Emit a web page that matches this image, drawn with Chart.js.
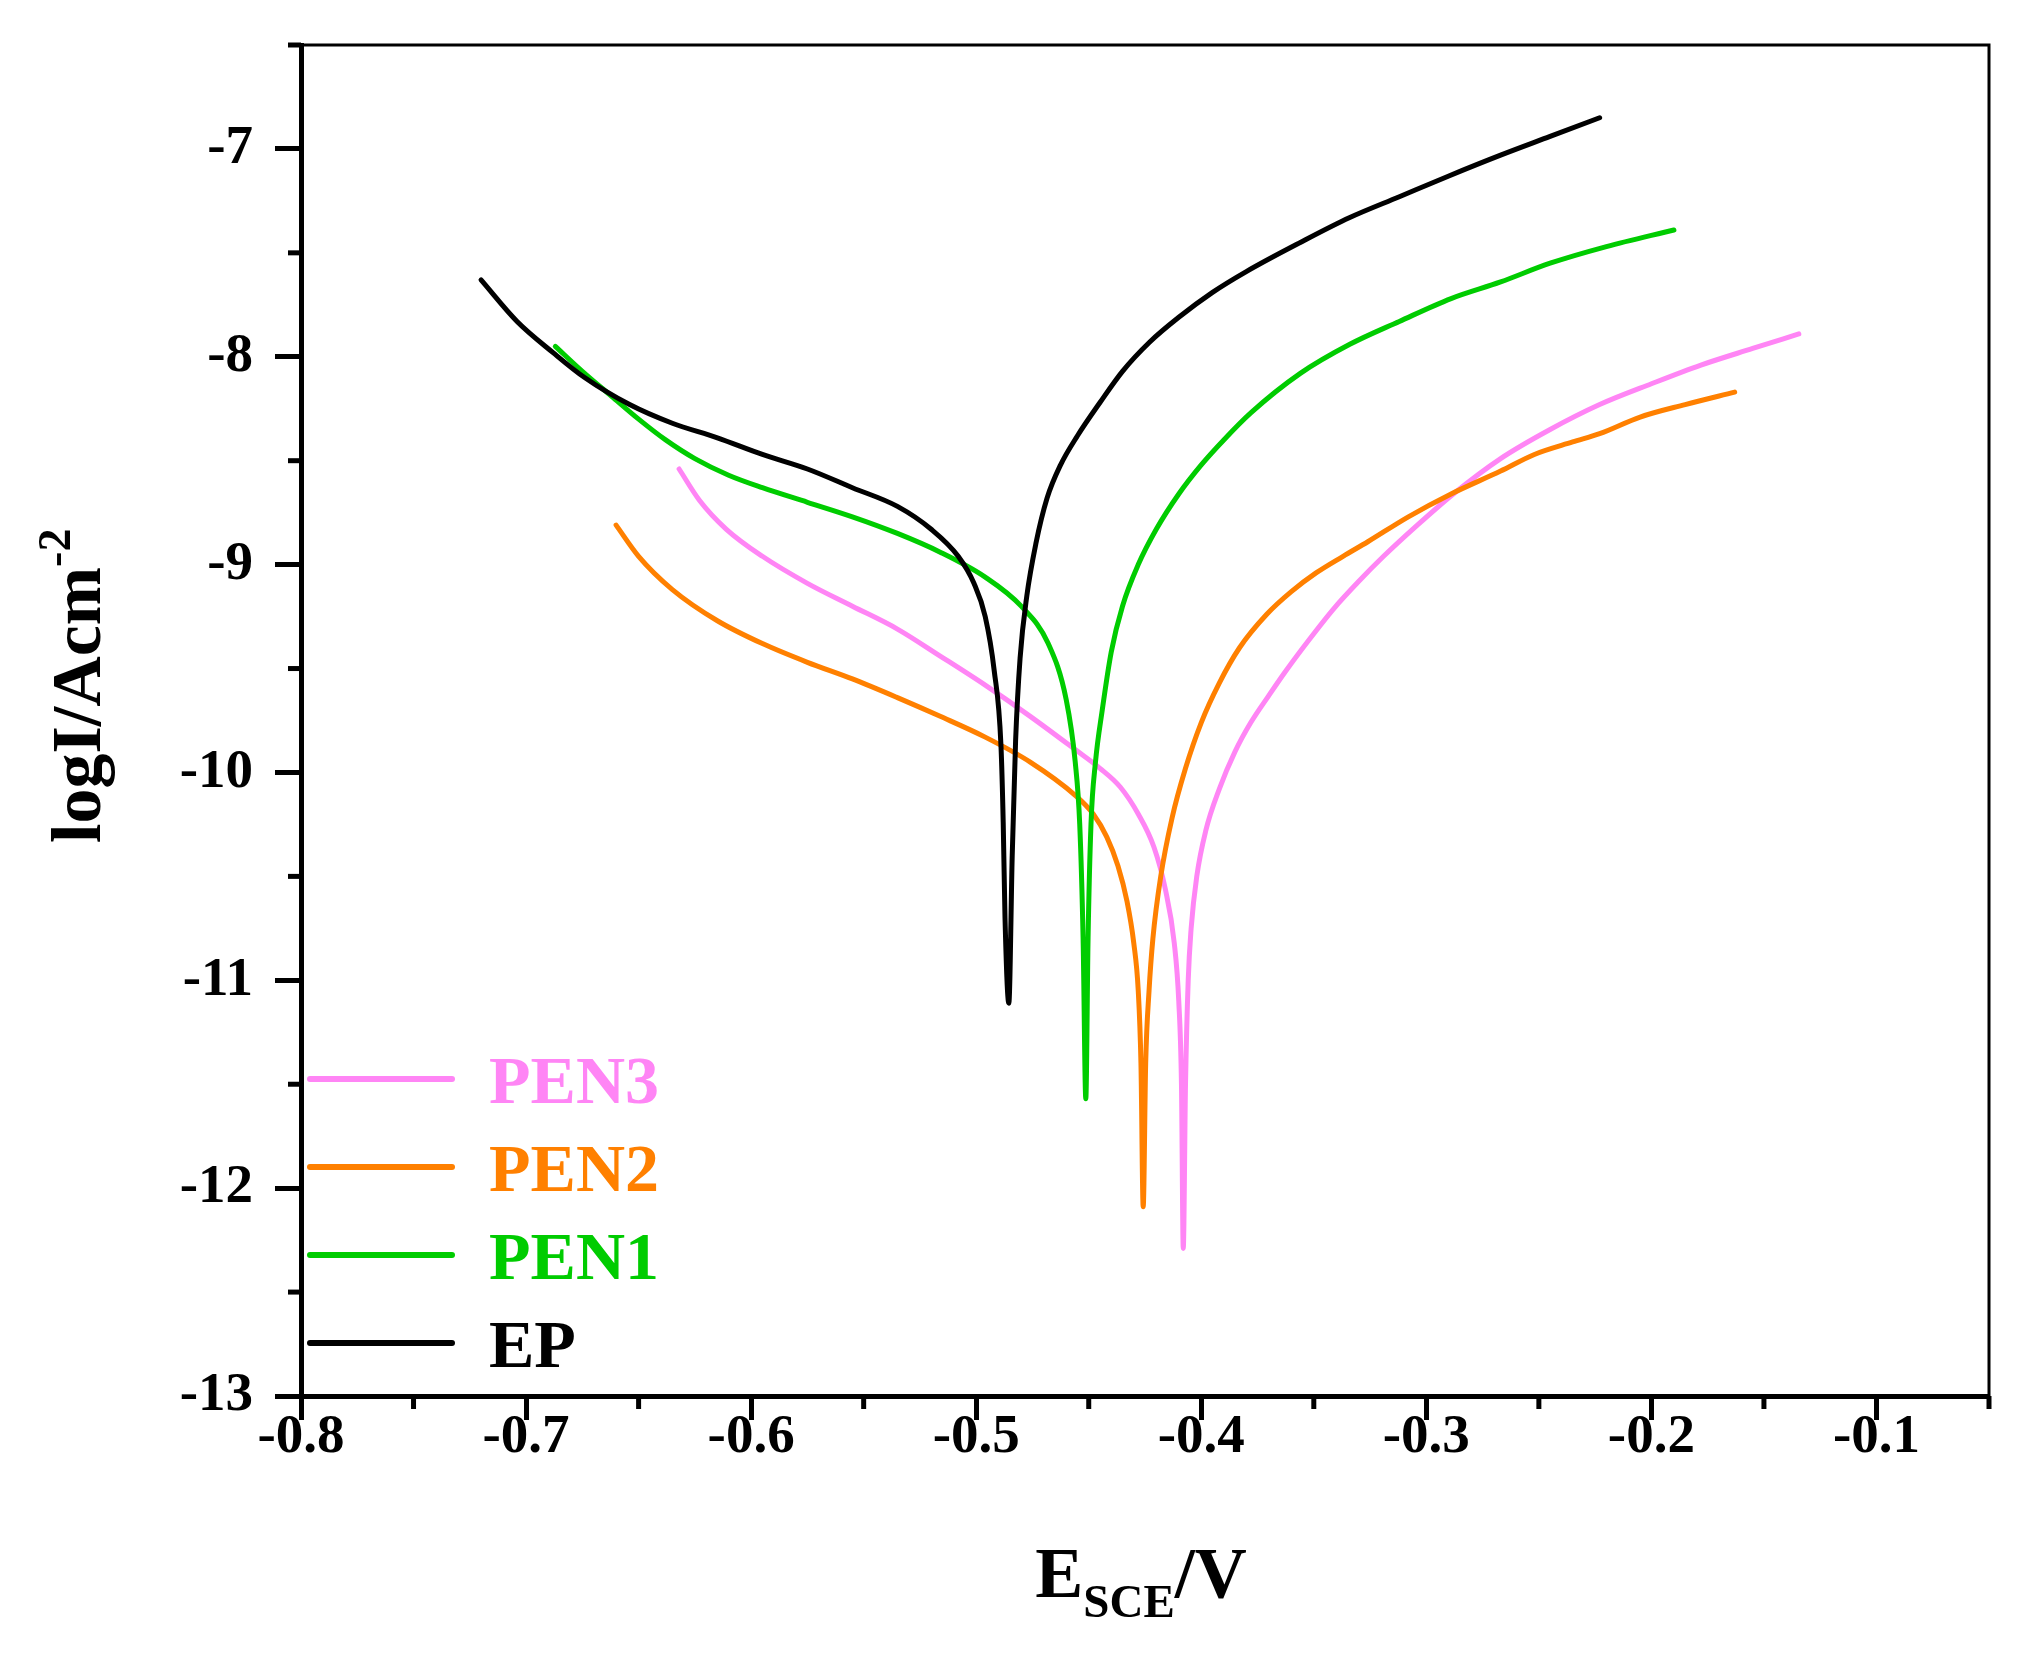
<!DOCTYPE html>
<html>
<head>
<meta charset="utf-8">
<script src="https://cdn.jsdelivr.net/npm/chart.js@4.4.1/dist/chart.umd.min.js"></script>
<style>
  html, body { margin: 0; padding: 0; background: #ffffff; overflow: hidden; }
  #wrap { width: 2021px; height: 1653px; }
  canvas { display: block; }
</style>
</head>
<body>
<div id="wrap"><canvas id="c" width="2021" height="1653"></canvas></div>
<script>
// ---------- data ----------
const X_TICKS = [-0.8, -0.7, -0.6, -0.5, -0.4, -0.3, -0.2, -0.1];
const Y_TICKS = [-13, -12, -11, -10, -9, -8, -7];
const X_MINOR = [-0.75, -0.65, -0.55, -0.45, -0.35, -0.25, -0.15, -0.05];
const Y_MINOR = [-12.5, -11.5, -10.5, -9.5, -8.5, -7.5, -6.5];

const SERIES_LABELS = ['EP', 'PEN1', 'PEN2', 'PEN3'];
const SERIES_COLORS = ['#000000', '#00cc00', '#ff8000', '#ff85f5'];

const E_EP = [-0.720,-0.704,-0.688,-0.674,-0.654,-0.635,-0.615,-0.595,-0.575,-0.555,-0.535,-0.520,-0.508,-0.501,-0.496,-0.492,-0.489,-0.488,-0.4872,-0.4855,
  -0.4840,-0.4825,-0.4805,-0.4775,-0.4735,-0.4685,-0.4625,-0.455,-0.445,-0.435,-0.423,-0.410,-0.395,-0.380,-0.356,-0.334,-0.312,-0.290,-0.267,-0.245,-0.223];
const LOGI_EP = [-7.63,-7.83,-7.98,-8.10,-8.23,-8.32,-8.39,-8.47,-8.54,-8.63,-8.72,-8.83,-8.96,-9.09,-9.25,-9.51,-9.87,-10.24,-10.70,-11.11,
  -10.40,-9.85,-9.45,-9.15,-8.90,-8.68,-8.52,-8.38,-8.22,-8.07,-7.93,-7.81,-7.69,-7.59,-7.45,-7.33,-7.23,-7.13,-7.03,-6.94,-6.85];

const E_PEN1 = [-0.687,-0.675,-0.662,-0.650,-0.638,-0.625,-0.610,-0.595,-0.575,-0.555,-0.535,-0.516,-0.496,-0.480,-0.468,-0.460,-0.456,-0.454,-0.4525,-0.4513,
  -0.4503,-0.449,-0.447,-0.444,-0.440,-0.435,-0.428,-0.420,-0.410,-0.400,-0.390,-0.378,-0.356,-0.334,-0.312,-0.289,-0.267,-0.245,-0.220,-0.190];
const LOGI_PEN1 = [-7.95,-8.07,-8.19,-8.30,-8.40,-8.49,-8.57,-8.63,-8.70,-8.77,-8.85,-8.94,-9.06,-9.20,-9.38,-9.65,-9.95,-10.25,-10.80,-11.57,
  -10.80,-10.25,-9.95,-9.70,-9.42,-9.20,-9.00,-8.83,-8.66,-8.52,-8.40,-8.27,-8.08,-7.94,-7.83,-7.72,-7.64,-7.55,-7.47,-7.39];

const E_PEN2 = [-0.660,-0.650,-0.635,-0.615,-0.595,-0.575,-0.555,-0.535,-0.516,-0.496,-0.476,-0.456,-0.448,-0.442,-0.437,-0.433,-0.430,-0.428,-0.4268,-0.4258,
  -0.4247,-0.4232,-0.4215,-0.418,-0.413,-0.407,-0.400,-0.392,-0.383,-0.371,-0.360,-0.349,-0.337,-0.326,-0.308,-0.289,-0.267,-0.252,-0.235,-0.223,-0.205,-0.185,-0.163];
const LOGI_PEN2 = [-8.81,-8.96,-9.12,-9.27,-9.38,-9.47,-9.55,-9.64,-9.73,-9.83,-9.95,-10.11,-10.20,-10.31,-10.45,-10.62,-10.82,-11.05,-11.40,-12.09,
  -11.40,-11.05,-10.80,-10.50,-10.22,-9.98,-9.76,-9.57,-9.40,-9.24,-9.13,-9.04,-8.96,-8.89,-8.77,-8.66,-8.55,-8.47,-8.41,-8.37,-8.29,-8.23,-8.17];

const E_PEN3 = [-0.632,-0.623,-0.611,-0.595,-0.575,-0.555,-0.535,-0.516,-0.496,-0.476,-0.456,-0.445,-0.436,-0.428,-0.421,-0.416,-0.412,-0.410,-0.4088,-0.4080,
  -0.4070,-0.4058,-0.4045,-0.402,-0.398,-0.392,-0.385,-0.378,-0.370,-0.363,-0.352,-0.341,-0.330,-0.319,-0.304,-0.288,-0.267,-0.245,-0.223,-0.200,-0.178,-0.155,-0.1345];
const LOGI_PEN3 = [-8.54,-8.69,-8.83,-8.96,-9.09,-9.20,-9.31,-9.44,-9.58,-9.73,-9.89,-9.98,-10.07,-10.20,-10.36,-10.56,-10.82,-11.10,-11.50,-12.29,
  -11.50,-11.00,-10.75,-10.50,-10.28,-10.08,-9.90,-9.76,-9.63,-9.52,-9.36,-9.21,-9.08,-8.96,-8.81,-8.66,-8.49,-8.35,-8.23,-8.13,-8.04,-7.96,-7.89];

const SERIES_E = [E_EP, E_PEN1, E_PEN2, E_PEN3];
const SERIES_LOGI = [LOGI_EP, LOGI_PEN1, LOGI_PEN2, LOGI_PEN3];

// ---------- chart ----------
const FONT = 'Liberation Serif';

const datasets = SERIES_LABELS.map((lab, i) => ({
  label: lab,
  data: SERIES_E[i].map((e, k) => ({ x: e, y: SERIES_LOGI[i][k] })),
  borderColor: SERIES_COLORS[i],
  backgroundColor: SERIES_COLORS[i],
  borderWidth: 5,
  showLine: true,
  pointRadius: 0,
  fill: false,
  cubicInterpolationMode: 'monotone',
  borderCapStyle: 'round',
  borderJoinStyle: 'round'
}));

const extras = {
  id: 'extras',
  afterDraw(chart) {
    const ctx = chart.ctx;
    const a = chart.chartArea;
    const xs = chart.scales.x, ys = chart.scales.y;
    ctx.save();
    ctx.strokeStyle = '#000';
    ctx.lineCap = 'butt';
    // top and right frame
    ctx.lineWidth = 3;
    ctx.beginPath();
    ctx.moveTo(a.left, a.top); ctx.lineTo(a.right, a.top); ctx.lineTo(a.right, a.bottom);
    ctx.stroke();
    // minor ticks
    ctx.lineWidth = 5;
    X_MINOR.forEach(v => {
      const px = xs.getPixelForValue(v);
      ctx.beginPath(); ctx.moveTo(px, a.bottom); ctx.lineTo(px, a.bottom + 13); ctx.stroke();
    });
    Y_MINOR.forEach(v => {
      const py = ys.getPixelForValue(v);
      ctx.beginPath(); ctx.moveTo(a.left, py); ctx.lineTo(a.left - 13, py); ctx.stroke();
    });

    // x axis title: E_SCE/V
    ctx.fillStyle = '#000';
    ctx.textBaseline = 'alphabetic';
    ctx.textAlign = 'left';
    const big = 'bold 72px "' + FONT + '"';
    const small = 'bold 47px "' + FONT + '"';
    ctx.font = big; const wE = ctx.measureText('E').width; const wV = ctx.measureText('/V').width;
    ctx.font = small; const wS = ctx.measureText('SCE').width;
    const total = wE + wS + wV;
    let x0 = (a.left + a.right) / 2 - total / 2 - 4;
    const base = 1597;
    ctx.font = big; ctx.fillText('E', x0, base);
    ctx.font = small; ctx.fillText('SCE', x0 + wE, base + 20);
    ctx.font = big; ctx.fillText('/V', x0 + wE + wS, base);

    // y axis title: logI/Acm^-2 (rotated)
    ctx.save();
    ctx.translate(100, 843);
    ctx.rotate(-Math.PI / 2);
    const yBig = 'bold 70px "' + FONT + '"';
    const ySmall = 'bold 46px "' + FONT + '"';
    ctx.font = yBig; ctx.fillText('logI/Acm', 0, 0);
    const wMain = ctx.measureText('logI/Acm').width;
    ctx.font = ySmall; ctx.fillText('-2', wMain, -30);
    ctx.restore();

    // legend (inside plot, bottom-left)
    const order = [3, 2, 1, 0];
    const rowY = [1079, 1167, 1255, 1343];
    ctx.font = 'bold 68px "' + FONT + '"';
    order.forEach((di, r) => {
      const ds = chart.data.datasets[di];
      ctx.strokeStyle = ds.borderColor;
      ctx.lineWidth = 6;
      ctx.lineCap = 'round';
      ctx.beginPath(); ctx.moveTo(310, rowY[r]); ctx.lineTo(452, rowY[r]); ctx.stroke();
      ctx.fillStyle = ds.borderColor;
      ctx.fillText(ds.label, 489, rowY[r] + 24);
    });
    ctx.restore();
  }
};

new Chart(document.getElementById('c'), {
  type: 'scatter',
  data: { datasets },
  options: {
    responsive: false,
    animation: false,
    devicePixelRatio: 1,
    layout: { padding: { top: 45, right: 32, left: 0, bottom: 0 } },
    plugins: { legend: { display: false }, tooltip: { enabled: false }, title: { display: false } },
    scales: {
      x: {
        type: 'linear', min: -0.8, max: -0.05,
        afterBuildTicks: s => { s.ticks = X_TICKS.map(v => ({ value: v })); },
        afterFit: s => { s.height = 257; },
        ticks: {
          callback: v => Number(v).toFixed(1),
          font: { family: FONT, size: 55, weight: 'bold' },
          color: '#000', padding: -15, maxRotation: 0, autoSkip: false
        },
        grid: { drawOnChartArea: false, drawTicks: true, tickLength: 24, tickWidth: 5, tickColor: '#000' },
        border: { display: true, width: 5, color: '#000' },
        title: { display: false }
      },
      y: {
        type: 'linear', min: -13, max: -6.5,
        afterBuildTicks: s => { s.ticks = Y_TICKS.map(v => ({ value: v })); },
        afterFit: s => { s.width = 301; },
        ticks: {
          callback: v => String(v),
          font: { family: FONT, size: 55, weight: 'bold', lineHeight: 0.4 },
          color: '#000', padding: 22, autoSkip: false
        },
        grid: { drawOnChartArea: false, drawTicks: true, tickLength: 26, tickWidth: 5, tickColor: '#000' },
        border: { display: true, width: 5, color: '#000' },
        title: { display: false }
      }
    }
  },
  plugins: [extras]
});
</script>
</body>
</html>
